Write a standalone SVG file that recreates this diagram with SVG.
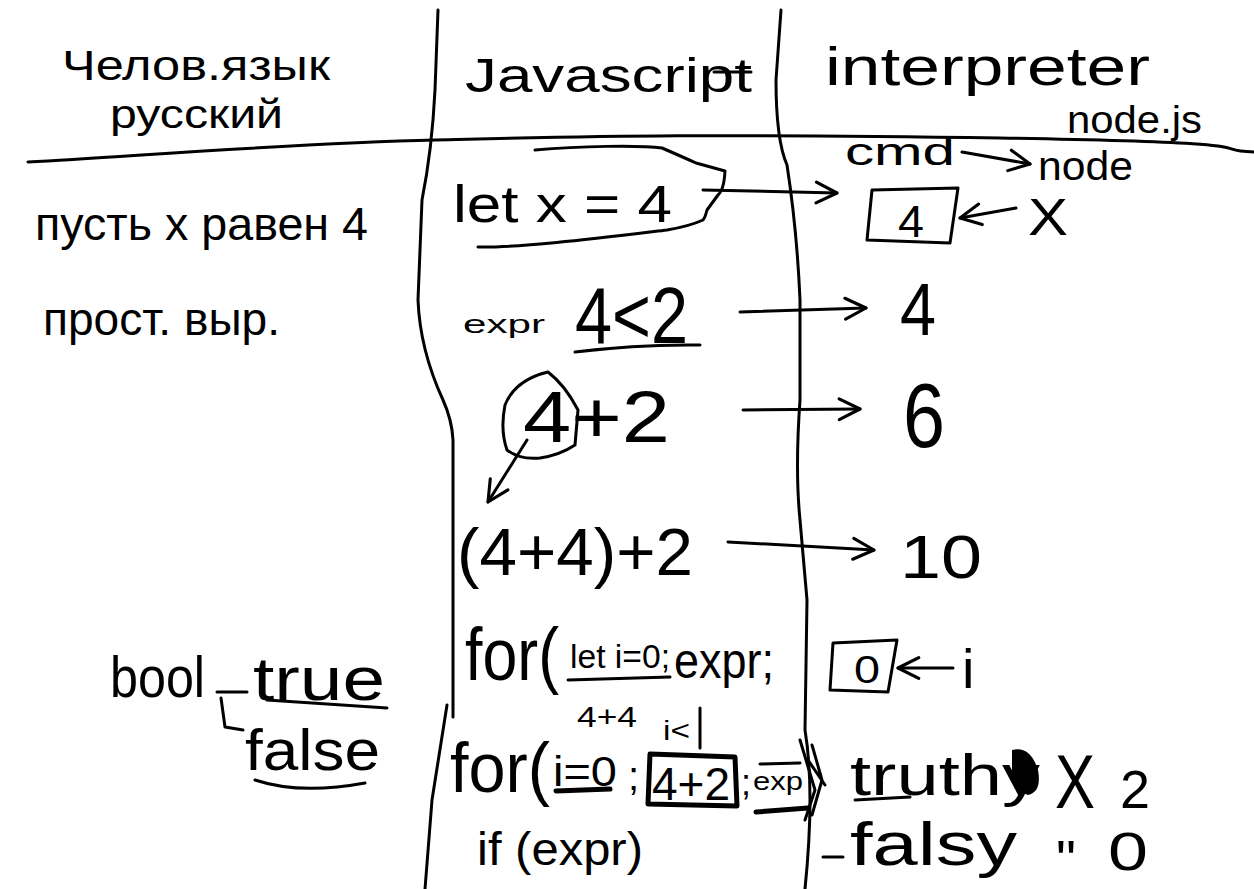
<svg xmlns="http://www.w3.org/2000/svg" width="1254" height="889" viewBox="0 0 1254 889">
<style>
.t{font-family:"Liberation Sans","Noto Sans",Arial,sans-serif;fill:#000}
.s{fill:none;stroke:#000;stroke-width:3;stroke-linecap:round;stroke-linejoin:round}
.th{fill:none;stroke:#000;stroke-width:5;stroke-linecap:round;stroke-linejoin:round}
</style>
<defs>
<marker id="arr" viewBox="0 0 10 10" refX="9" refY="5" markerWidth="26" markerHeight="26" markerUnits="userSpaceOnUse" orient="auto">
<path d="M1,1 L9,5 L1,9" fill="none" stroke="#000" stroke-width="1.2" stroke-linecap="round" stroke-linejoin="round"/>
</marker>
</defs>
<rect width="1254" height="889" fill="#fff"/>

<g id="grid">
<path class="s" d="M28,162 C150,155 300,143 435,140 S700,133 1000,138 S1200,150 1254,152"/>
<path class="s" d="M438,10 L435,90 Q432,150 422,200 L418,300 Q420,350 443,400 Q452,420 453,440 L453,717 M447,705 L432,800 L425,889"/>
<path class="s" d="M781,10 L776,80 Q776,140 787,165 Q797,230 800,300 L800,400 Q795,470 800,520 L807,600 L805,730 Q815,790 805,889"/>
</g>

<g id="headers">
<text class="t" x="62" y="80" font-size="42" textLength="268" lengthAdjust="spacingAndGlyphs">Челов.язык</text>
<text class="t" x="110" y="128" font-size="40" textLength="173" lengthAdjust="spacingAndGlyphs">русский</text>
<text class="t" x="465" y="92" font-size="48" textLength="287" lengthAdjust="spacingAndGlyphs">Javascript</text>
<path class="s" d="M714,72 L751,72"/>
<text class="t" x="825" y="85" font-size="54" textLength="325" lengthAdjust="spacingAndGlyphs">interpreter</text>
<text class="t" x="1067" y="133" font-size="38" textLength="135" lengthAdjust="spacingAndGlyphs">node.js</text>
<text class="t" x="845" y="165" font-size="38" textLength="110" lengthAdjust="spacingAndGlyphs">cmd</text>
<text class="t" x="1038" y="180" font-size="40" textLength="95" lengthAdjust="spacingAndGlyphs">node</text>
</g>

<g id="row-let">
<text class="t" x="35" y="240" font-size="46" textLength="333" lengthAdjust="spacingAndGlyphs">пусть x равен 4</text>
<text class="t" x="453" y="222" font-size="52" textLength="219" lengthAdjust="spacingAndGlyphs">let x = 4</text>
<path class="s" d="M535,150 C580,146 640,145 662,148 Q685,158 696,163 L725,171 Q724,190 718,195 L707,210 Q705,218 703,220 Q690,226 667,230 C600,238 520,248 478,247"/>
</g>
<g id="box-x">
<path class="s" d="M872,190 L958,188 L950,243 L867,240 Z"/>
<text class="t" x="898" y="237" font-size="44" textLength="26" lengthAdjust="spacingAndGlyphs">4</text>
<text class="t" x="1028" y="235" font-size="52" textLength="40" lengthAdjust="spacingAndGlyphs">X</text>
</g>

<g id="row-expr">
<text class="t" x="43" y="335" font-size="46" textLength="237" lengthAdjust="spacingAndGlyphs">прост. выр.</text>
<text class="t" x="463" y="333" font-size="26" textLength="82" lengthAdjust="spacingAndGlyphs">expr</text>
<text class="t" x="575" y="343" font-size="80" textLength="113" lengthAdjust="spacingAndGlyphs">4&lt;2</text>
<path class="s" d="M575,352 Q640,344 700,345"/>
<text class="t" x="900" y="335" font-size="74" textLength="36" lengthAdjust="spacingAndGlyphs">4</text>
</g>

<g id="row-sum">
<text class="t" x="523" y="442" font-size="72" textLength="147" lengthAdjust="spacingAndGlyphs">4+2</text>
<path class="s" d="M548,372 Q565,385 578,410 L575,445 Q560,455 540,458 Q520,460 507,450 Q500,430 505,405 Q515,380 548,372"/>
<text class="t" x="903" y="447" font-size="90" textLength="42" lengthAdjust="spacingAndGlyphs">6</text>
</g>

<g id="row-nested">
<text class="t" x="457" y="575" font-size="66" textLength="236" lengthAdjust="spacingAndGlyphs">(4+4)+2</text>
<text class="t" x="900" y="578" font-size="62" textLength="82" lengthAdjust="spacingAndGlyphs">10</text>
</g>

<g id="row-for">
<text class="t" x="465" y="680" font-size="75" textLength="94" lengthAdjust="spacingAndGlyphs">for(</text>
<text class="t" x="570" y="668" font-size="33" textLength="100" lengthAdjust="spacingAndGlyphs">let i=0;</text>
<path class="s" d="M568,680 L670,677"/>
<text class="t" x="674" y="678" font-size="50" textLength="100" lengthAdjust="spacingAndGlyphs">expr;</text>
<text class="t" x="577" y="727" font-size="30" textLength="60" lengthAdjust="spacingAndGlyphs">4+4</text>
<text class="t" x="663" y="740" font-size="28" textLength="27" lengthAdjust="spacingAndGlyphs">i&lt;</text>
<path class="s" d="M700,708 L700,748"/>
</g>
<g id="box-i">
<path class="s" d="M833,643 L897,640 L888,692 L830,690 Z"/>
<text class="t" x="854" y="683" font-size="38" textLength="26" lengthAdjust="spacingAndGlyphs">0</text>
<text class="t" x="962" y="688" font-size="56">i</text>
</g>

<g id="row-for2">
<text class="t" x="450" y="792" font-size="70" textLength="100" lengthAdjust="spacingAndGlyphs">for(</text>
<text class="t" x="553" y="786" font-size="42" textLength="64" lengthAdjust="spacingAndGlyphs">i=0</text>
<path class="th" d="M556,791 L610,789"/>
<text class="t" x="628" y="790" font-size="40">;</text>
<path class="th" d="M650,754 L735,757 L737,806 L648,804 Z"/>
<text class="t" x="652" y="800" font-size="46" textLength="78" lengthAdjust="spacingAndGlyphs">4+2</text>
<text class="t" x="741" y="795" font-size="36">;</text>
<text class="t" x="753" y="790" font-size="26" textLength="50" lengthAdjust="spacingAndGlyphs">exp</text>
<path class="s" d="M760,764 L800,763"/>
<path class="th" d="M756,812 L808,808"/>
<path class="s" d="M800,740 L815,790 L805,820 M812,745 L822,780 L812,815 M808,760 L825,785"/>
<text class="t" x="477" y="865" font-size="46" textLength="166" lengthAdjust="spacingAndGlyphs">if (expr)</text>
</g>

<g id="truthy">
<text class="t" x="850" y="795" font-size="58" textLength="190" lengthAdjust="spacingAndGlyphs">truthy</text>
<path class="s" d="M855,800 L910,797"/>
<path d="M1012,750 Q1030,745 1038,770 Q1042,792 1028,795 Q1012,790 1012,770 Z" fill="#000"/>
<text class="t" x="1055" y="808" font-size="76" textLength="40" lengthAdjust="spacingAndGlyphs">X</text>
<text class="t" x="1120" y="808" font-size="54" textLength="30" lengthAdjust="spacingAndGlyphs">2</text>
</g>
<g id="falsy">
<path class="s" d="M823,857 L843,857"/>
<text class="t" x="850" y="865" font-size="62" textLength="167" lengthAdjust="spacingAndGlyphs">falsy</text>
<text class="t" x="1056" y="878" font-size="54" textLength="20" lengthAdjust="spacingAndGlyphs">"</text>
<text class="t" x="1108" y="870" font-size="54" textLength="40" lengthAdjust="spacingAndGlyphs">0</text>
</g>

<g id="bool">
<text class="t" x="110" y="697" font-size="58" textLength="95" lengthAdjust="spacingAndGlyphs">bool</text>
<path class="s" d="M217,692 L247,692 M221,698 L225,727 L243,730"/>
<text class="t" x="253" y="700" font-size="62" textLength="132" lengthAdjust="spacingAndGlyphs">true</text>
<path class="s" d="M267,700 L387,708"/>
<text class="t" x="245" y="770" font-size="58" textLength="135" lengthAdjust="spacingAndGlyphs">false</text>
<path class="s" d="M255,780 Q300,795 365,783"/>
</g>

<g id="connectors">
<path class="s" d="M962,152 L1030,164" marker-end="url(#arr)"/>
<path class="s" d="M703,190 L837,193" marker-end="url(#arr)"/>
<path class="s" d="M1016,208 L960,218" marker-end="url(#arr)"/>
<path class="s" d="M740,312 L866,308" marker-end="url(#arr)"/>
<path class="s" d="M527,440 L488,502" marker-end="url(#arr)"/>
<path class="s" d="M743,410 L860,409" marker-end="url(#arr)"/>
<path class="s" d="M728,542 L874,550" marker-end="url(#arr)"/>
<path class="s" d="M953,668 L898,668" marker-end="url(#arr)"/>
</g>
</svg>
